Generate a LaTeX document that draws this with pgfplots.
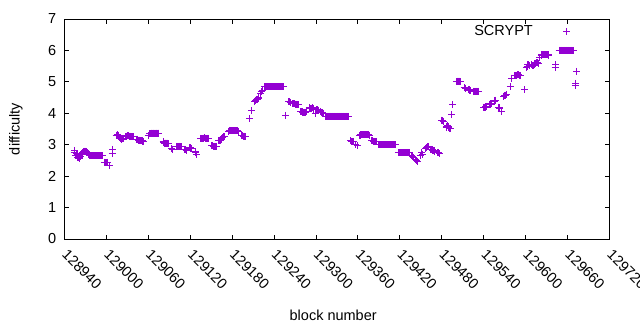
\documentclass[border=0pt]{standalone}
\usepackage{pgfplots}
\pgfplotsset{compat=1.18}
\usepackage{fontspec}
\setmainfont{Liberation Sans}
\definecolor{gpviolet}{RGB}{148,0,211}
\begin{document}
\fontsize{14.5}{17}\selectfont
\begin{tikzpicture}
\begin{axis}[
  at={(0,0)}, anchor=south west,
  scale only axis, width=545pt, height=220pt,
  xmin=128940, xmax=129720, ymin=0, ymax=7,
  xtick={128940,129000,...,129720},
  ytick={0,1,...,7},
  scaled x ticks=false,
  /pgf/number format/.cd, fixed, precision=0, set thousands separator={}, assume math mode=true,
  /pgfplots/.cd,
  tick align=inside, major tick length=4.5pt,
  xtick pos=both, ytick pos=both,
  axis line style={line width=1pt}, every tick/.style={line width=1pt, black},
  xticklabel style={xshift=4pt, yshift=-8pt, rotate=-45, anchor=north west, inner sep=1pt},
  yticklabel style={anchor=east, inner sep=2pt, xshift=-6pt},
  xlabel={block number}, ylabel={difficulty},
  xlabel style={at={(0.493,-0.345)}, anchor=center},
  ylabel style={at={(-0.089,0.5)}, anchor=center},
  legend plot pos=right,
  legend image code/.code={\path[draw=none,fill=none] (0pt,0pt) rectangle (38pt,0.1pt); \draw[#1] plot coordinates {(34pt,0pt)};},
  legend style={draw=none, fill=none, inner sep=0pt, nodes={inner sep=0pt}, at={(0.9294,0.941)}, anchor=east, legend cell align=right, font=\fontsize{14.5}{17}\selectfont},
]
\addplot[only marks, mark=+, mark size=3.5pt, gpviolet, line width=1pt] coordinates {
(128954,2.76)(128955,2.82)(128956,2.65)(128957,2.72)(128958,2.7)(128959,2.6)(128960,2.58)(128961,2.55)(128962,2.6)(128963,2.62)
(128965,2.72)(128966,2.75)(128967,2.77)(128968,2.78)(128969,2.8)(128970,2.8)(128971,2.78)(128972,2.77)(128973,2.75)(128974,2.72)(128975,2.7)
(128976,2.67)(128977,2.65)(128978,2.65)(128979,2.65)(128980,2.65)(128981,2.65)(128982,2.65)(128983,2.65)(128984,2.65)(128985,2.65)
(128986,2.65)(128987,2.65)(128988,2.65)(128989,2.65)(128990,2.65)(128991,2.65)(128992,2.65)(128993,2.65)(128994,2.65)
(128997,2.45)(128998,2.43)(128999,2.42)(129000,2.43)(129001,2.45)(129004,2.33)
(129008,2.72)(129009,2.85)
(129014,3.3)(129015,3.3)(129016,3.32)(129017,3.28)
(129019,3.22)(129020,3.2)(129021,3.2)(129022,3.18)(129023,3.2)(129024,3.2)
(129027,3.25)(129028,3.25)(129029,3.27)(129030,3.28)(129031,3.28)(129032,3.28)(129033,3.27)(129034,3.27)(129035,3.26)(129036,3.25)(129037,3.25)(129038,3.26)(129039,3.26)
(129043,3.18)(129044,3.18)(129045,3.17)(129046,3.15)(129047,3.15)(129048,3.14)(129049,3.13)(129050,3.13)(129051,3.12)(129052,3.1)(129053,3.1)
(129060,3.3)(129062,3.35)(129063,3.35)(129064,3.37)(129065,3.37)(129066,3.37)(129067,3.37)(129068,3.37)(129069,3.37)(129070,3.37)(129071,3.37)(129072,3.37)(129073,3.37)(129074,3.37)(129075,3.37)
(129081,3.1)(129082,3.07)(129083,3.05)(129084,3.05)(129085,3.05)(129086,3.05)(129087,3.05)(129088,3.04)(129089,3.03)
(129093,2.87)(129094,2.86)(129095,2.85)
(129101,2.95)(129102,2.95)(129103,2.95)(129104,2.95)(129105,2.95)(129106,2.94)(129107,2.93)
(129112,2.85)(129113,2.84)(129114,2.82)
(129119,2.9)(129120,2.9)(129121,2.89)(129122,2.88)
(129127,2.78)(129128,2.74)(129129,2.68)
(129135,3.2)(129136,3.2)(129137,3.2)(129138,3.2)(129139,3.21)(129140,3.22)(129141,3.22)(129142,3.21)(129143,3.2)(129144,3.2)(129145,3.2)(129146,3.2)
(129151,2.97)(129152,2.96)(129153,2.95)(129154,2.94)(129155,2.93)(129156,2.94)(129157,2.95)
(129161,3.12)(129162,3.13)(129163,3.15)(129164,3.17)(129165,3.2)(129166,3.22)(129167,3.25)(129168,3.25)(129169,3.25)
(129175,3.43)(129176,3.44)(129177,3.45)(129178,3.45)(129179,3.45)(129180,3.45)(129181,3.45)(129182,3.45)(129183,3.45)(129184,3.45)(129185,3.45)(129186,3.45)(129187,3.44)(129188,3.44)(129189,3.43)
(129194,3.3)(129195,3.28)(129196,3.27)(129197,3.27)(129198,3.26)(129199,3.25)
(129205,3.82)
(129208,4.08)
(129212,4.38)(129213,4.4)(129214,4.42)(129215,4.44)(129216,4.45)(129217,4.48)(129218,4.5)
(129221,4.62)(129222,4.68)(129223,4.72)
(129226,4.85)(129227,4.85)(129228,4.85)(129229,4.85)(129230,4.85)(129231,4.85)(129232,4.85)(129233,4.85)(129234,4.85)(129235,4.85)
(129236,4.85)(129237,4.85)(129238,4.85)(129239,4.85)(129240,4.85)(129241,4.85)(129242,4.85)(129243,4.85)(129244,4.85)(129245,4.85)
(129246,4.85)(129247,4.85)(129248,4.85)(129249,4.85)(129250,4.85)(129251,4.85)(129252,4.85)(129253,4.85)(129254,4.85)
(129257,3.93)
(129261,4.37)(129262,4.36)(129263,4.35)
(129266,4.3)(129267,4.3)(129268,4.3)(129269,4.3)(129270,4.29)(129271,4.28)(129272,4.28)(129273,4.28)(129274,4.27)(129275,4.27)
(129278,4.05)(129279,4.05)(129280,4.05)(129281,4.04)(129282,4.03)(129283,4.03)(129284,4.03)(129285,4.04)(129286,4.05)
(129290,4.17)(129291,4.16)(129292,4.15)(129293,4.15)(129294,4.16)(129295,4.17)(129296,4.14)(129297,4.12)(129299,4.0)
(129301,4.12)(129302,4.11)(129303,4.1)
(129306,4.06)(129307,4.05)(129308,4.03)(129309,4.01)(129310,4.0)
(129313,3.9)(129314,3.9)(129315,3.9)(129316,3.9)(129317,3.9)(129318,3.9)(129319,3.9)(129320,3.9)(129321,3.9)(129322,3.9)(129323,3.9)
(129324,3.9)(129325,3.9)(129326,3.9)(129327,3.9)(129328,3.9)(129329,3.9)(129330,3.9)(129331,3.9)(129332,3.9)(129333,3.9)(129334,3.9)
(129335,3.9)(129336,3.9)(129337,3.9)(129338,3.9)(129339,3.9)(129340,3.9)(129341,3.9)(129342,3.9)(129343,3.9)(129344,3.9)(129345,3.9)(129346,3.9)
(129350,3.12)(129351,3.11)(129352,3.1)(129353,3.1)(129354,3.1)(129357,3.0)(129359,2.98)
(129362,3.3)(129363,3.3)(129364,3.31)(129365,3.32)(129366,3.32)(129367,3.32)(129368,3.32)(129369,3.32)(129370,3.32)(129371,3.32)(129372,3.32)(129373,3.32)(129374,3.32)(129375,3.31)(129376,3.3)(129377,3.3)
(129380,3.13)(129381,3.12)(129382,3.11)(129383,3.1)(129384,3.1)(129385,3.1)(129386,3.1)
(129389,3.0)(129390,3.0)(129391,3.0)(129392,3.0)(129393,3.0)(129394,3.0)(129395,3.0)(129396,3.0)(129397,3.0)(129398,3.0)(129399,3.0)
(129400,3.0)(129401,3.0)(129402,3.0)(129403,3.0)(129404,3.0)(129405,3.0)(129406,3.0)(129407,3.0)(129408,3.0)(129409,3.0)(129410,3.0)
(129411,3.0)(129412,3.0)(129413,3.0)(129414,3.0)
(129418,2.75)(129419,2.75)(129420,2.75)(129421,2.75)(129422,2.75)(129423,2.75)(129424,2.75)(129425,2.75)(129426,2.75)
(129427,2.75)(129428,2.75)(129429,2.75)(129430,2.75)(129431,2.75)(129432,2.75)(129433,2.75)(129434,2.75)
(129437,2.65)(129438,2.62)(129439,2.6)
(129443,2.52)(129444,2.5)(129445,2.48)
(129449,2.65)(129451,2.75)(129453,2.7)
(129457,2.88)(129458,2.9)(129459,2.93)(129460,2.94)(129461,2.95)
(129464,2.85)(129465,2.85)(129466,2.84)(129467,2.83)(129468,2.82)(129469,2.81)(129470,2.8)
(129474,2.75)(129475,2.74)(129476,2.72)
(129480,3.78)(129481,3.77)(129482,3.75)
(129486,3.55)(129487,3.57)(129488,3.6)(129489,3.57)(129490,3.55)(129491,3.53)(129492,3.52)
(129494,3.95)
(129496,4.27)
(129501,5.0)(129502,5.01)(129503,5.02)(129504,5.02)(129505,5.02)(129506,5.01)(129507,5.0)
(129512,4.82)(129513,4.81)(129514,4.8)
(129518,4.75)(129519,4.75)(129520,4.74)(129521,4.73)
(129525,4.7)(129526,4.7)(129527,4.7)(129528,4.7)(129529,4.7)(129530,4.7)(129531,4.7)(129532,4.7)(129533,4.7)
(129540,4.2)(129541,4.2)(129542,4.2)(129543,4.21)(129544,4.22)
(129548,4.28)(129549,4.29)(129550,4.3)(129551,4.3)
(129555,4.38)(129556,4.4)(129557,4.42)
(129561,4.2)(129562,4.18)(129563,4.15)(129565,4.05)
(129569,4.55)(129570,4.57)(129571,4.58)(129572,4.6)
(129578,4.85)
(129580,5.12)
(129584,5.2)(129585,5.2)(129586,5.2)(129587,5.21)(129588,5.22)(129589,5.22)(129590,5.22)(129591,5.21)(129592,5.2)
(129599,4.75)
(129601,5.45)(129602,5.5)(129603,5.55)(129604,5.54)(129605,5.52)
(129608,5.55)(129609,5.54)(129610,5.52)(129611,5.53)(129612,5.55)(129613,5.57)(129614,5.58)
(129616,5.62)(129617,5.61)(129618,5.6)
(129620,5.78)
(129622,5.85)(129623,5.86)(129624,5.87)(129625,5.87)(129626,5.87)(129627,5.87)(129628,5.87)(129629,5.87)(129630,5.87)(129631,5.87)(129632,5.86)(129633,5.85)
(129642,5.47)(129643,5.55)
(129648,6.0)(129649,6.0)(129650,6.0)(129651,6.0)(129652,6.0)(129653,6.0)(129654,6.0)(129655,6.0)(129656,6.0)(129657,6.0)(129658,6.0)
(129659,6.0)(129660,6.0)(129661,6.0)(129662,6.0)(129663,6.0)(129664,6.0)(129665,6.0)(129666,6.0)(129667,6.0)(129668,6.0)
(129659,6.6)
(129672,4.95)(129672,4.88)
(129673,5.33)
};
\addlegendentry{SCRYPT}
\end{axis}
\pgfresetboundingbox
\path[use as bounding box] (-64.5pt,-91pt) rectangle (575.5pt,239pt);
\end{tikzpicture}
\end{document}
